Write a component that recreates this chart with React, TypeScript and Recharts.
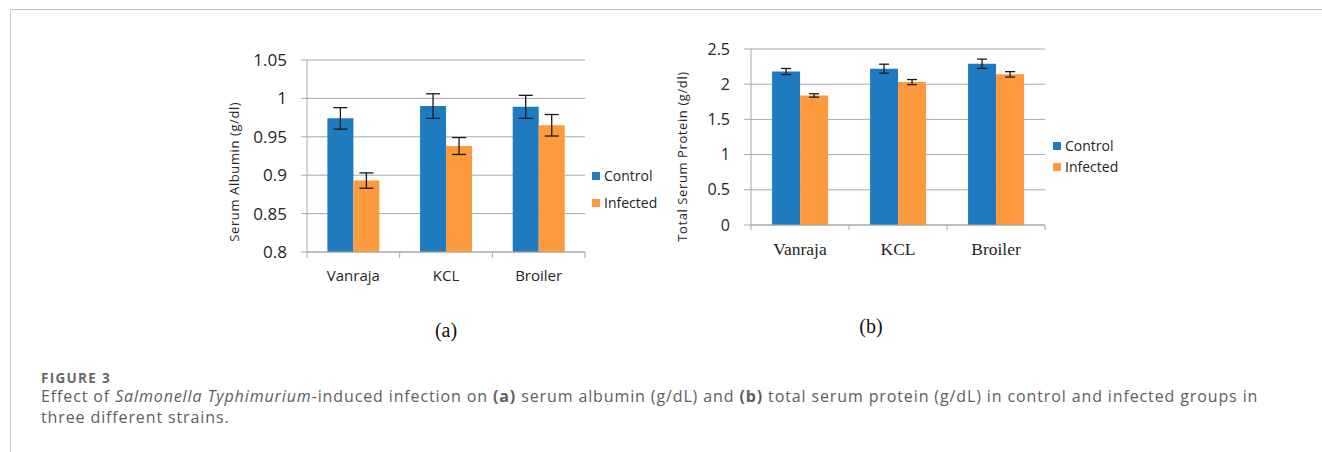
import React from 'react';
import { BarChart, Bar, XAxis, YAxis, CartesianGrid, ErrorBar, Legend } from 'recharts';

const categories = ['Vanraja', 'KCL', 'Broiler'];
const albuminControl = [0.974, 0.99, 0.989];
const albuminControlErr = [0.014, 0.016, 0.015];
const albuminInfected = [0.893, 0.938, 0.965];
const albuminInfectedErr = [0.01, 0.011, 0.014];
const proteinControl = [2.18, 2.22, 2.29];
const proteinControlErr = [0.043, 0.064, 0.066];
const proteinInfected = [1.84, 2.03, 2.14];
const proteinInfectedErr = [0.024, 0.036, 0.038];
const albuminTicks = [0.8, 0.85, 0.9, 0.95, 1, 1.05];
const proteinTicks = [0, 0.5, 1, 1.5, 2, 2.5];
const seriesNames = ['Control', 'Infected'];

const BLUE = '#1f7bbf';
const ORANGE = '#fd9a3d';
const GRID = '#a8a8a8';
const TEXT = '#262626';
const SANS = '"Open Sans", "Noto Sans", sans-serif';
const SERIF = '"Liberation Serif", "Times New Roman", serif';

const albuminData = categories.map((c, i) => ({
  name: c,
  control: albuminControl[i],
  controlErr: albuminControlErr[i],
  infected: albuminInfected[i],
  infectedErr: albuminInfectedErr[i],
}));
const proteinData = categories.map((c, i) => ({
  name: c,
  control: proteinControl[i],
  controlErr: proteinControlErr[i],
  infected: proteinInfected[i],
  infectedErr: proteinInfectedErr[i],
}));

const makeCategoryTick = (font: string, size: number, baseline: number, tickLen: number) => (props: any) => {
  const { x, y, payload, index, width } = props;
  const off = payload && typeof payload.offset === 'number' && payload.offset > 0 ? payload.offset : width / (2 * categories.length);
  return (
    <g>
      <line x1={x - off} x2={x - off} y1={y} y2={y + tickLen} stroke={GRID} strokeWidth={1} />
      {index === categories.length - 1 && (
        <line x1={x + off} x2={x + off} y1={y} y2={y + tickLen} stroke={GRID} strokeWidth={1} />
      )}
      <text x={x} y={y + baseline} textAnchor="middle" fill={TEXT} fontFamily={font} fontSize={size}>
        {payload.value}
      </text>
    </g>
  );
};

const makeYLabel = (text: string, dx: number, dy: number, size: number, spacing: number) => (props: any) => {
  const vb = props.viewBox || {};
  const cx = vb.x + dx;
  const cy = vb.y + vb.height / 2 + dy;
  return (
    <text
      x={cx}
      y={cy}
      transform={`rotate(-90 ${cx} ${cy})`}
      textAnchor="middle"
      dominantBaseline="central"
      fill={TEXT}
      fontFamily={SANS}
      fontSize={size}
      letterSpacing={spacing}
    >
      {text}
    </text>
  );
};

const makeLegend = (itemH: number) => (props: any) => {
  const payload = props.payload || [];
  return (
    <div>
      {payload.map((p: any) => (
        <div key={p.value} style={{ height: itemH, display: 'flex', alignItems: 'center' }}>
          <span style={{ width: 8, height: 8, background: p.color, display: 'inline-block', marginRight: 4 }} />
          <span style={{ fontFamily: SANS, fontSize: 14, color: TEXT, lineHeight: '16px' }}>{p.value}</span>
        </div>
      ))}
    </div>
  );
};

const yTickStyle = { fill: TEXT, fontFamily: SANS, fontSize: 17 };

function AlbuminChart() {
  return (
    <BarChart
      width={480}
      height={260}
      data={albuminData}
      margin={{ top: 20, right: 95, left: 0, bottom: 18 }}
      barCategoryGap="22%"
      barGap={0}
    >
      <CartesianGrid vertical={false} stroke={GRID} strokeWidth={1} />
      <XAxis
        dataKey="name"
        height={30}
        axisLine={{ stroke: GRID }}
        tickLine={false}
        tickSize={0}
        tickMargin={0}
        interval={0}
        tick={makeCategoryTick(SANS, 15, 29, 6)}
      />
      <YAxis
        width={107}
        domain={[0.8, 1.05]}
        ticks={albuminTicks}
        allowDataOverflow
        axisLine={{ stroke: GRID }}
        tickLine={{ stroke: GRID }}
        tickSize={6}
        tickMargin={14}
        tick={yTickStyle}
        label={makeYLabel('Serum Albumin (g/dl)', 34, 15.7, 13, 0.6)}
      />
      <Legend
        layout="horizontal"
        align="center"
        verticalAlign="middle"
        content={makeLegend(27)}
        wrapperStyle={{ left: 392, top: 122, width: 'auto', height: 'auto' }}
      />
      <Bar dataKey="control" name={seriesNames[0]} fill={BLUE} isAnimationActive={false}>
        <ErrorBar dataKey="controlErr" width={7} stroke="#1a1a1a" strokeWidth={1.3} direction="y" />
      </Bar>
      <Bar dataKey="infected" name={seriesNames[1]} fill={ORANGE} isAnimationActive={false}>
        <ErrorBar dataKey="infectedErr" width={7} stroke="#1a1a1a" strokeWidth={1.3} direction="y" />
      </Bar>
    </BarChart>
  );
}

function ProteinChart() {
  return (
    <BarChart
      width={480}
      height={250}
      data={proteinData}
      margin={{ top: 19, right: 95, left: 0, bottom: 20 }}
      barCategoryGap="21.5%"
      barGap={0}
    >
      <CartesianGrid vertical={false} stroke={GRID} strokeWidth={1} />
      <XAxis
        dataKey="name"
        height={35}
        axisLine={{ stroke: GRID }}
        tickLine={false}
        tickSize={0}
        tickMargin={0}
        interval={0}
        tick={makeCategoryTick(SERIF, 17.5, 30, 5)}
      />
      <YAxis
        width={91}
        domain={[0, 2.5]}
        ticks={proteinTicks}
        axisLine={{ stroke: GRID }}
        tickLine={{ stroke: GRID }}
        tickSize={7}
        tickMargin={14}
        tick={{ ...yTickStyle, fontSize: 16 }}
        label={makeYLabel('Total Serum Protein (g/dl)', 21.7, 19.5, 13, 0.6)}
      />
      <Legend
        layout="horizontal"
        align="center"
        verticalAlign="middle"
        content={makeLegend(21)}
        wrapperStyle={{ left: 393, top: 105, width: 'auto', height: 'auto' }}
      />
      <Bar dataKey="control" name={seriesNames[0]} fill={BLUE} isAnimationActive={false}>
        <ErrorBar dataKey="controlErr" width={5} stroke="#1a1a1a" strokeWidth={1.3} direction="y" />
      </Bar>
      <Bar dataKey="infected" name={seriesNames[1]} fill={ORANGE} isAnimationActive={false}>
        <ErrorBar dataKey="infectedErr" width={5} stroke="#1a1a1a" strokeWidth={1.3} direction="y" />
      </Bar>
    </BarChart>
  );
}

const captionFont = '"Open Sans", "Noto Sans", sans-serif';

export default function App() {
  return (
    <div style={{ position: 'absolute', left: 0, top: 0, width: 1322, height: 452, background: '#fff', overflow: 'hidden' }}>
      <div
        style={{
          position: 'absolute',
          left: 10,
          top: 9,
          width: 1320,
          height: 450,
          borderTop: '1px solid #c4c4c4',
          borderLeft: '1px solid #cfcfcf',
        }}
      />
      <div style={{ position: 'absolute', left: 200, top: 40 }}>
        <AlbuminChart />
      </div>
      <div style={{ position: 'absolute', left: 660, top: 30 }}>
        <ProteinChart />
      </div>
      <div style={{ position: 'absolute', left: 446, top: 318, transform: 'translateX(-50%)', fontFamily: SERIF, fontSize: 20, color: '#111', lineHeight: '24px' }}>
        (a)
      </div>
      <div style={{ position: 'absolute', left: 871, top: 314, transform: 'translateX(-50%)', fontFamily: SERIF, fontSize: 20, color: '#111', lineHeight: '24px' }}>
        (b)
      </div>
      <div style={{ position: 'absolute', left: 41, top: 372, fontFamily: captionFont, fontSize: 13.5, fontWeight: 700, color: '#6a6a6a', lineHeight: '12px', letterSpacing: 1.3, whiteSpace: 'nowrap' }}>
        FIGURE 3
      </div>
      <div style={{ position: 'absolute', left: 41, top: 386, fontFamily: captionFont, fontSize: 16, color: '#5e5e5e', lineHeight: '21px', letterSpacing: 0.88, whiteSpace: 'nowrap' }}>
        <div>
          Effect of <i>Salmonella Typhimurium</i>-induced infection on <b>(a)</b> serum albumin (g/dL) and <b>(b)</b> total serum protein (g/dL) in control and infected groups in
        </div>
        <div>three different strains.</div>
      </div>
    </div>
  );
}
